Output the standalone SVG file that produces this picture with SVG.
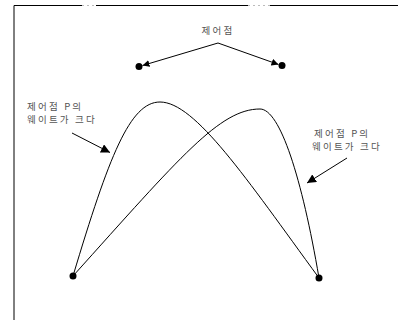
<svg xmlns="http://www.w3.org/2000/svg" width="398" height="320" viewBox="0 0 398 320">
<defs>
<marker id="tri" viewBox="0 0 10 10" refX="10" refY="5" markerWidth="7" markerHeight="7" orient="auto" markerUnits="userSpaceOnUse">
<path d="M0,0 L10,5 L0,10 z" fill="#000"/>
</marker>
<marker id="tri2" viewBox="0 0 10 10" refX="10" refY="5" markerWidth="9" markerHeight="9" orient="auto" markerUnits="userSpaceOnUse">
<path d="M0,0 L10,5 L0,10 z" fill="#000"/>
</marker>
</defs>
<style>
.lbl{font-family:"Noto Sans CJK KR","Liberation Sans",sans-serif;font-size:9.5px;fill:#555;letter-spacing:2.2px}
.ln{stroke:#000;stroke-width:1;fill:none}
.dot{fill:#000}
</style>
<rect width="398" height="320" fill="#fff"/>
<g id="frame">
<path class="ln" d="M14,320 V5.5 H82 M96,5.5 H248 M270,5.5 H398" stroke="#222"/>
<path d="M82,5.5 H96 M248,5.5 H270" stroke="#bbb" stroke-width="1" stroke-dasharray="2,3" fill="none"/>
</g>
<g id="connectors">
<path class="ln" d="M218,43 L142.5,65.5" marker-end="url(#tri)"/>
<path class="ln" d="M218,43 L278.5,64.5" marker-end="url(#tri)"/>
<path class="ln" d="M73,276 C109,156 130,102 160,102 C195,102 246,178 319,278"/>
<path class="ln" d="M73,276 C181,156 220,109 260,109 C280,109 302,178 319,278"/>
<path class="ln" d="M72,133 L110,152.5" marker-end="url(#tri2)"/>
<path class="ln" d="M347,158 L307,183" marker-end="url(#tri2)"/>
</g>
<g id="label-top"><text class="lbl" x="218" y="34" text-anchor="middle">제어점</text></g>
<g id="cp-left"><circle class="dot" cx="139" cy="66.5" r="3.5"/></g>
<g id="cp-right"><circle class="dot" cx="282" cy="65.5" r="3.5"/></g>
<g id="end-left"><circle class="dot" cx="73" cy="276" r="3.5"/></g>
<g id="end-right"><circle class="dot" cx="319" cy="278" r="3.5"/></g>
<g id="note-left">
<text class="lbl" x="27" y="110">제어점 P의</text>
<text class="lbl" x="27" y="123">웨이트가 크다</text>
</g>
<g id="note-right">
<text class="lbl" x="314" y="137">제어점 P의</text>
<text class="lbl" x="312" y="150">웨이트가 크다</text>
</g>
</svg>
